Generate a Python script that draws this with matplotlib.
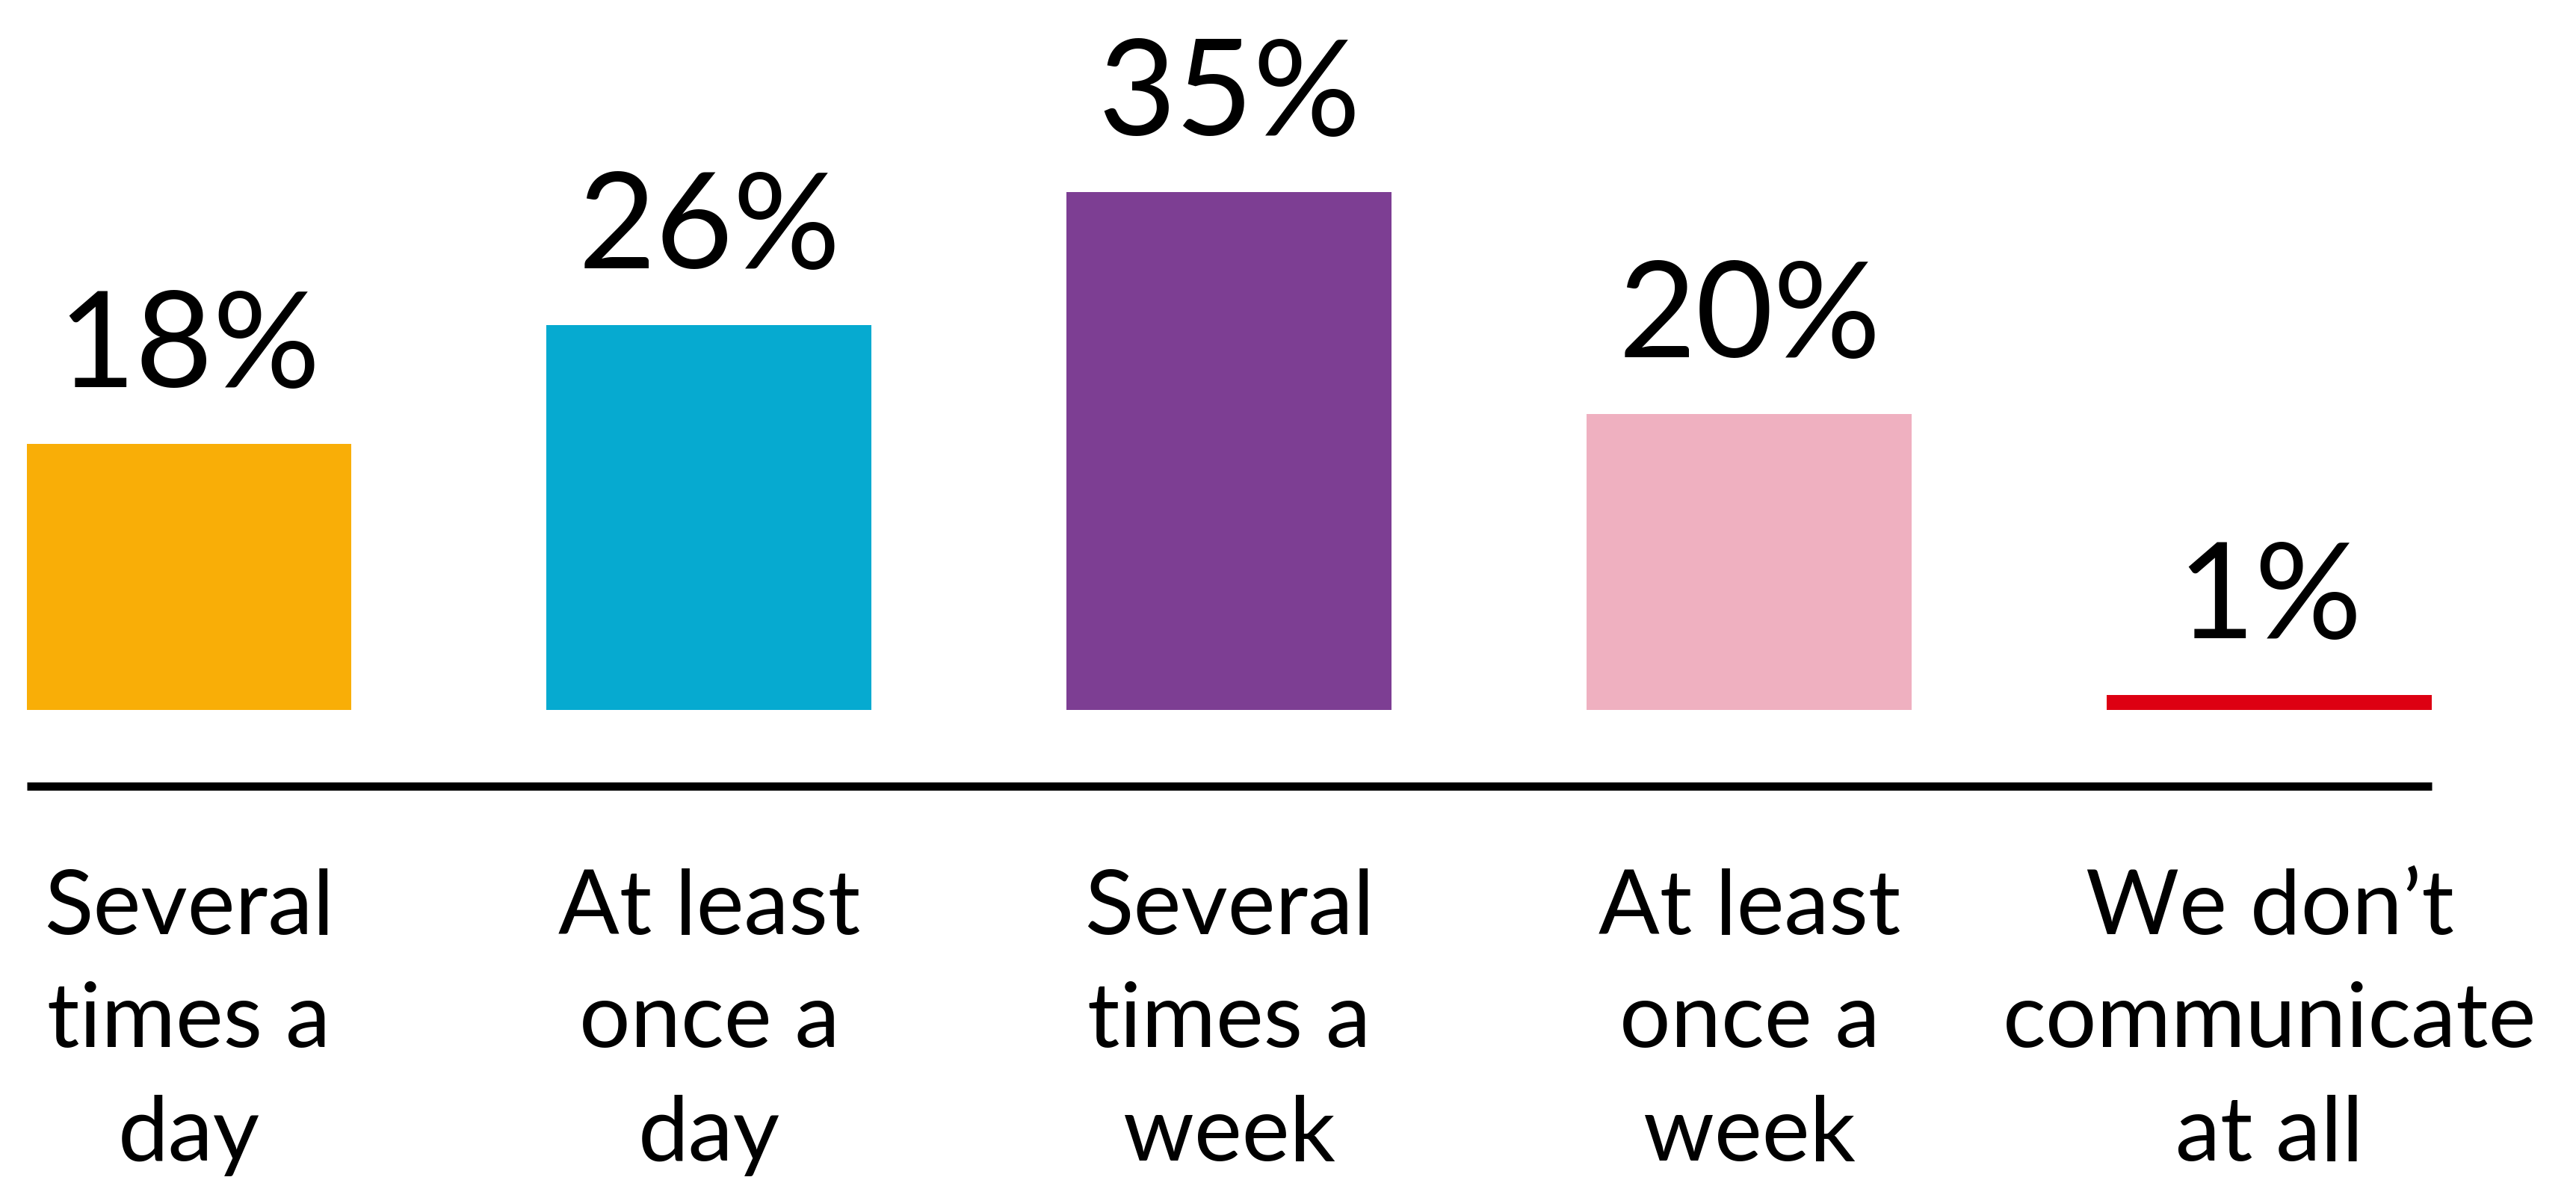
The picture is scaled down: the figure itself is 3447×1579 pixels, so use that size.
import numpy as np
import matplotlib.pyplot as plt

# survey answers and their shares (%)
categories = ["Several\ntimes a\nday",
              "At least\nonce a\nday",
              "Several\ntimes a\nweek",
              "At least\nonce a\nweek",
              "We don’t\ncommunicate\nat all"]
shares = [18, 26, 35, 20, 1]
bar_colors = ["#F9AE07", "#06AAD0", "#7D3E93", "#EFB0C0", "#DD0012"]

W, H = 3448, 1579
DPI = 100
PX_PER_PCT = 19.8   # vertical scale, pixels per percent
BASE_PX = 950       # bar baseline, pixels from top
SLOT_PX = 696       # distance between bar centres
FIRST_PX = 253      # centre of the first bar

FONT = ["Lato", "DejaVu Sans"]


def px(d):
    # pixel distance -> data units on the y axis
    return d / PX_PER_PCT


fig = plt.figure(figsize=(W / DPI, H / DPI), dpi=DPI)
ax = fig.add_axes([0, 0, 1, 1])
ax.set_xlim(-FIRST_PX / SLOT_PX, (W - FIRST_PX) / SLOT_PX)
ax.set_ylim(-px(H - BASE_PX), px(BASE_PX))
ax.axis("off")

x = np.arange(len(shares))
width = 0.625
ax.bar(x, shares, width=width, color=bar_colors, linewidth=0)

# baseline rule under the bars
ax.plot([x[0] - width / 2, x[-1] + width / 2], [-px(101.5)] * 2,
        color="black", linewidth=11 * 72 / DPI, solid_capstyle="butt")

# value labels
for xi, v in zip(x, shares):
    ax.text(xi, v + px(76), f"{v}%", ha="center", va="baseline",
            fontsize=129, family=FONT, color="black")

# category labels, one line at a time
for xi, cat in zip(x, categories):
    for j, line in enumerate(cat.split("\n")):
        ax.text(xi, -px(300 + 151.5 * j), line, ha="center", va="baseline",
                fontsize=87, family=FONT, color="black")

fig.savefig("out.png", dpi=DPI, facecolor="white")
